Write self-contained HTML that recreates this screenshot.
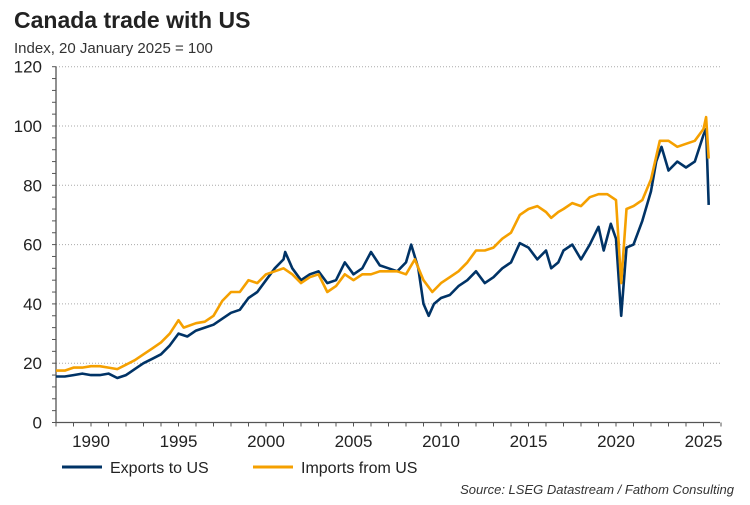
<!DOCTYPE html>
<html><head><meta charset="utf-8"><style>
body{margin:0;background:#fff;font-family:"Liberation Sans",sans-serif;}
svg text{font-family:"Liberation Sans",sans-serif;}
</style></head><body>
<svg width="750" height="500" viewBox="0 0 750 500" xmlns="http://www.w3.org/2000/svg">
<text x="14" y="28" font-size="23" font-weight="bold" fill="#222">Canada trade with US</text>
<text x="14" y="53" font-size="15" fill="#333">Index, 20 January 2025 = 100</text>
<g id="grid"></g>
<g id="axes"></g>
<g id="series"></g>
<g>
<line x1="62" y1="467" x2="102" y2="467" stroke="#003366" stroke-width="3"/>
<text x="110" y="473" font-size="16" fill="#222">Exports to US</text>
<line x1="253" y1="467" x2="293" y2="467" stroke="#f5a000" stroke-width="3"/>
<text x="301" y="473" font-size="16" fill="#222">Imports from US</text>
</g>
<text x="734" y="494" font-size="13" font-style="italic" fill="#333" text-anchor="end">Source: LSEG Datastream / Fathom Consulting</text>
</svg>
<script>
const yTicks=[0,20,40,60,80,100,120];
const xTickLabels=[1990,1995,2000,2005,2010,2015,2020,2025];
const exportsT=[1988,1988.5,1989,1989.5,1990,1990.5,1991,1991.5,1992,1992.5,1993,1993.5,1994,1994.5,1995,1995.5,1996,1996.5,1997,1997.5,1998,1998.5,1999,1999.5,2000,2000.5,2001,2001.1,2001.5,2002,2002.5,2003,2003.5,2004,2004.5,2005,2005.5,2006,2006.5,2007,2007.5,2008,2008.3,2008.7,2009,2009.3,2009.6,2010,2010.5,2011,2011.5,2012,2012.5,2013,2013.5,2014,2014.5,2015,2015.5,2016,2016.3,2016.7,2017,2017.5,2018,2018.5,2019,2019.3,2019.7,2020,2020.3,2020.6,2021,2021.5,2022,2022.3,2022.6,2023,2023.5,2024,2024.5,2025,2025.15,2025.3];
const exportsV=[15.5,15.5,16,16.5,16,16,16.5,15,16,18,20,21.5,23,26,30,29,31,32,33,35,37,38,42,44,48,52,55,57.5,52,48,50,51,47,48,54,50,52,57.5,53,52,51,54,60,52,40,36,40,42,43,46,48,51,47,49,52,54,60.5,59,55,58,52,54,58,60,55,60,66,58,67,62,36,59,60,68,78,88,93,85,88,86,88,97,99,73.4];
const importsT=[1988,1988.5,1989,1989.5,1990,1990.5,1991,1991.5,1992,1992.5,1993,1993.5,1994,1994.5,1995,1995.3,1996,1996.5,1997,1997.5,1998,1998.5,1999,1999.5,2000,2000.5,2001,2001.5,2002,2002.5,2003,2003.5,2004,2004.5,2005,2005.5,2006,2006.5,2007,2007.5,2008,2008.5,2009,2009.5,2010,2010.5,2011,2011.5,2012,2012.5,2013,2013.5,2014,2014.5,2015,2015.5,2016,2016.3,2016.7,2017,2017.5,2018,2018.5,2019,2019.5,2020,2020.3,2020.6,2021,2021.5,2022,2022.5,2023,2023.5,2024,2024.5,2025,2025.15,2025.3];
const importsV=[17.5,17.5,18.5,18.5,19,19,18.5,18,19.5,21,23,25,27,30,34.5,32,33.5,34,36,41,44,44,48,47,50,51,52,50,47,49,50,44,46,50,48,50,50,51,51,51,50,55,48,44,47,49,51,54,58,58,59,62,64,70,72,73,71,69,71,72,74,73,76,77,77,75,47,72,73,75,82,95,95,93,94,95,99,103,89];
const X0=56,X1=720,Y0=422.5,YTOP=66.7;
const x=t=>91+(t-1990)*17.5;
const y=v=>Y0-(v/120)*(Y0-YTOP);
const NS='http://www.w3.org/2000/svg';
function mk(tag,attrs,parent){const e=document.createElementNS(NS,tag);for(const k in attrs)e.setAttribute(k,attrs[k]);parent.appendChild(e);return e;}
const grid=document.getElementById('grid'),axes=document.getElementById('axes'),series=document.getElementById('series');
yTicks.forEach(v=>{
  if(v>0){const g=mk('line',{x1:X0,x2:X1,y1:y(v),y2:y(v),stroke:'#aaa','stroke-width':1,'stroke-dasharray':'1,2'},grid);
  
  }
  const t=mk('text',{x:42,y:y(v)+6,'font-size':17,'text-anchor':'end',fill:'#222'},axes);
  t.textContent=v;
  
  
});
for(let v=0;v<=120;v+=4){mk('line',{x1:X0-4,x2:X0,y1:y(v),y2:y(v),stroke:'#555','stroke-width':1},axes);}
for(let yr=1988;yr<=2026;yr++){mk('line',{x1:x(yr),x2:x(yr),y1:Y0,y2:Y0+4,stroke:'#555','stroke-width':1},axes);}
const ya=mk('line',{x1:X0,x2:X0,y1:YTOP,y2:Y0,stroke:'#555','stroke-width':1.3},axes);


const xa=mk('line',{x1:X0,x2:X1,y1:Y0,y2:Y0,stroke:'#555','stroke-width':1.3},axes);


xTickLabels.forEach(yr=>{
  const t=mk('text',{x:x(yr),y:447,'font-size':17,'text-anchor':'middle',fill:'#222'},axes);
  t.textContent=yr;
  
  
});
function path(T,V){return T.map((t,i)=>(i?'L':'M')+x(t).toFixed(1)+','+y(V[i]).toFixed(1)).join('');}
const pe=mk('path',{d:path(exportsT,exportsV),fill:'none',stroke:'#003366','stroke-width':2.6,'stroke-linejoin':'round'},series);


const pi=mk('path',{d:path(importsT,importsV),fill:'none',stroke:'#f5a000','stroke-width':2.6,'stroke-linejoin':'round'},series);


</script>
</body></html>
